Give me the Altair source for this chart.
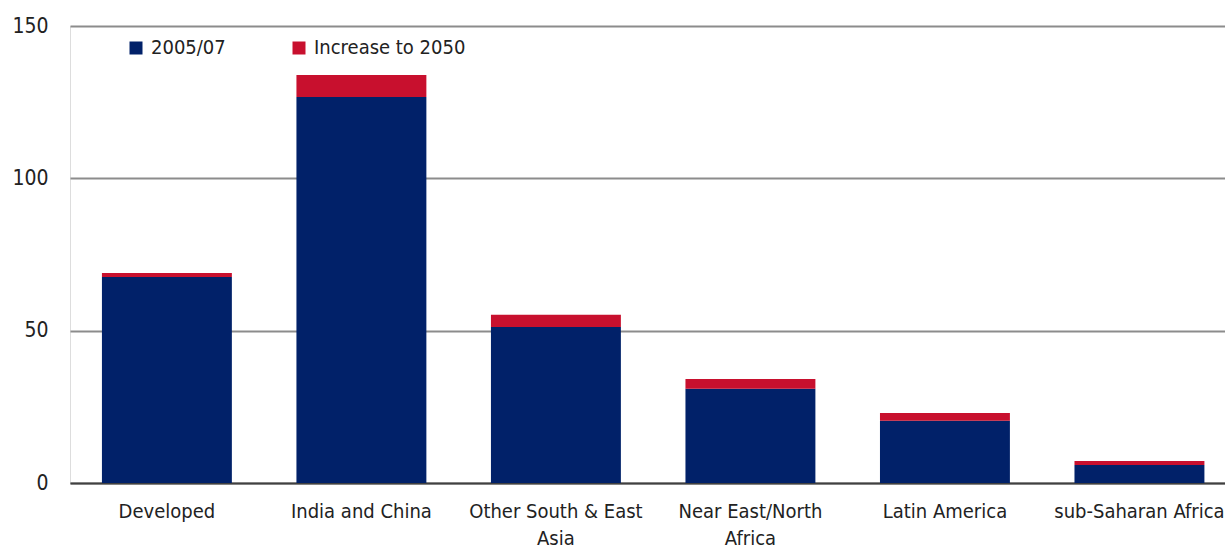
import altair as alt
import pandas as pd

categories = ["Developed", "India and China", "Other South & East|Asia",
              "Near East/North|Africa", "Latin America", "sub-Saharan Africa"]
base_2005 = [67.6, 126.7, 51.2, 30.9, 20.4, 5.9]
increase_2050 = [1.3, 7.2, 4.0, 3.2, 2.6, 1.3]
series = ["2005/07", "Increase to 2050"]
colors = ["#012169", "#C8102E"]

rows = []
for c, b, i in zip(categories, base_2005, increase_2050):
    rows.append({"cat": c, "series": series[0], "value": b, "ord": 0})
    rows.append({"cat": c, "series": series[1], "value": i, "ord": 1})
df = pd.DataFrame(rows)

FONT = "'DejaVu Sans Condensed', 'Roboto Condensed', Roboto, sans-serif"

chart = alt.Chart(df).mark_bar().encode(
    x=alt.X("cat:N", sort=categories, title=None,
            scale=alt.Scale(paddingInner=0.332, paddingOuter=0.135, align=0.608),
            axis=alt.Axis(labelAngle=0, labelExpr="split(datum.label, '|')",
                          labelFontSize=20, labelFont=FONT, labelColor="#222222",
                          labelPadding=18, ticks=False, tickSize=0,
                          domainColor="#404040", domainWidth=2,
                          labelLineHeight=27, labelBaseline="top")),
    y=alt.Y("value:Q", stack="zero", title=None,
            scale=alt.Scale(domain=[0, 150], nice=False),
            axis=alt.Axis(values=[0, 50, 100, 150], ticks=False, tickSize=0,
                          domain=False, labelPadding=22, labelFontSize=21,
                          labelFont=FONT, labelColor="#222222",
                          gridColor="#8c8c8c", gridWidth=2)),
    color=alt.Color("series:N", scale=alt.Scale(domain=series, range=colors),
                    legend=alt.Legend(orient="none", legendX=56, legendY=12,
                                      direction="horizontal", title=None,
                                      symbolType="square", symbolSize=169,
                                      symbolStrokeWidth=0, labelFontSize=20,
                                      labelFont=FONT, labelColor="#222222",
                                      labelOffset=5, columnPadding=63)),
    order=alt.Order("ord:Q", sort="ascending"),
).properties(
    width=1155, height=457,
    padding={"left": 70, "top": 26, "right": 0, "bottom": 65},
    autosize=alt.AutoSizeParams(type="none"),
).configure_view(stroke=None).configure(background="white")

chart.save("out.html", embed_options={"renderer": "svg", "actions": False})
